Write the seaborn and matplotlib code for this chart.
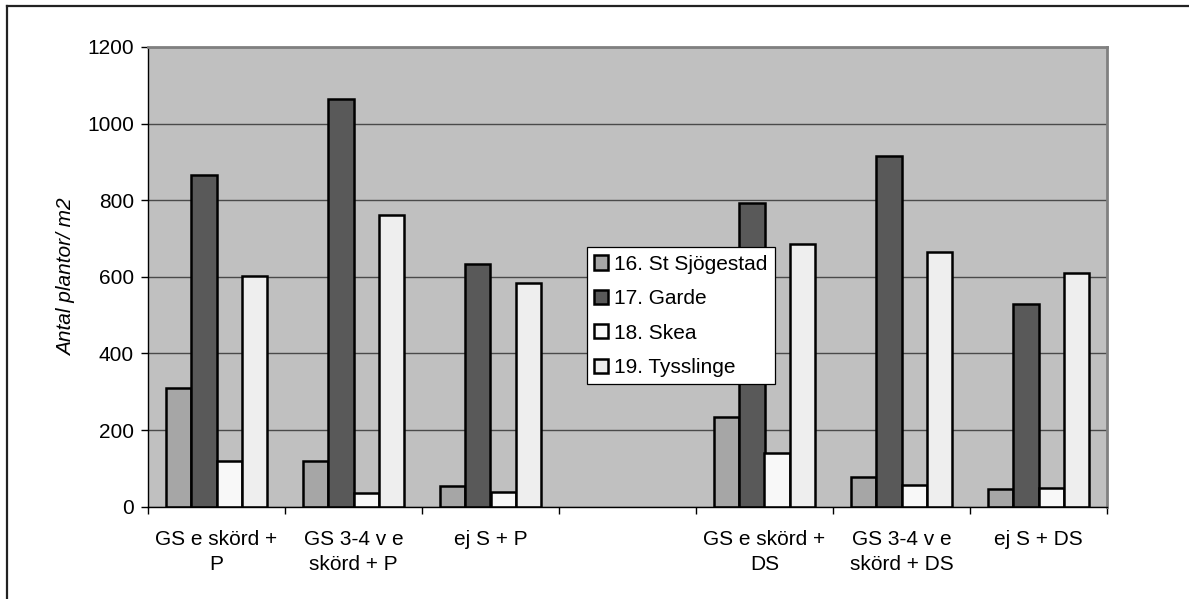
import matplotlib
matplotlib.use("Agg")
import matplotlib.pyplot as plt
import seaborn as sns
import pandas as pd
from matplotlib.lines import Line2D
from matplotlib.ticker import FixedLocator

# Treatments along the x axis (blank slot separates the P and DS groups)
treatments = ["GS e skörd +\nP", "GS 3-4 v e\nskörd + P", "ej S + P", " ",
              "GS e skörd +\nDS", "GS 3-4 v e\nskörd + DS", "ej S + DS"]
sites = ["16. St Sjögestad", "17. Garde", "18. Skea", "19. Tysslinge"]

sjogestad = [310, 120, 55, None, 233, 77, 47]
garde = [866, 1065, 634, None, 794, 915, 529]
skea = [120, 35, 38, None, 140, 57, 48]
tysslinge = [602, 762, 584, None, 687, 664, 610]

colors = ["#A6A6A6", "#595959", "#F8F8F8", "#EEEEEE"]

rows = []
for site, vals in zip(sites, [sjogestad, garde, skea, tysslinge]):
    for t, v in zip(treatments, vals):
        if v is not None:
            rows.append({"Behandling": t, "Plats": site, "Antal": v})
df = pd.DataFrame(rows)

plt.rcParams["font.family"] = ["Liberation Sans", "DejaVu Sans"]

fig = plt.figure(figsize=(11.89, 5.99), dpi=100)
ax = fig.add_axes([148 / 1189, 1 - 506.7 / 599, (1107 - 148) / 1189, (506.7 - 47) / 599])
ax.set_facecolor("#C0C0C0")

sns.barplot(data=df, x="Behandling", y="Antal", hue="Plats", order=treatments,
            hue_order=sites, palette=colors, width=0.73, edgecolor="black",
            linewidth=1.8, saturation=1, errorbar=None, ax=ax)

ax.set_xlim(-0.5, len(treatments) - 0.5)
ax.set_ylim(0, 1200)
ax.set_yticks(range(0, 1201, 200))
ax.yaxis.grid(True, color="#4a4a4a", linewidth=1.0)
ax.set_axisbelow(True)

ax.set_xlabel("")
ax.set_ylabel("Antal plantor/ m2", fontsize=15, style="italic", labelpad=8)

# category boundaries carry the tick marks, labels sit at the centres
ax.xaxis.set_minor_locator(FixedLocator([i - 0.5 for i in range(len(treatments) + 1)]))
ax.tick_params(axis="x", which="major", length=0, pad=16.5, labelsize=15)
ax.tick_params(axis="x", which="minor", length=5, width=1, color="black", direction="out")
ax.tick_params(axis="y", length=5, width=1, color="black", pad=5, labelsize=15)
for lbl in ax.get_xticklabels():
    lbl.set_linespacing(1.45)

for s in ["left", "bottom"]:
    ax.spines[s].set_color("black")
    ax.spines[s].set_linewidth(1.0)
for s in ["top", "right"]:
    ax.spines[s].set_color("#808080")
    ax.spines[s].set_linewidth(2.0)

handles, labels = ax.get_legend_handles_labels()
leg = ax.legend(handles, labels, loc="upper left", bbox_to_anchor=(0.4575, 0.564),
                borderaxespad=0, fontsize=15, frameon=True, fancybox=False,
                handlelength=0.68, handleheight=0.68, handletextpad=0.3,
                labelspacing=0.74, borderpad=0.35)
leg.get_frame().set_edgecolor("black")
leg.get_frame().set_linewidth(0.9)
leg.get_frame().set_facecolor("white")
leg.get_frame().set_alpha(1)

# outer chart frame (left and top edges)
fig.add_artist(Line2D([7 / 1189, 7 / 1189], [0, 1 - 6 / 599], color="#222222",
                      linewidth=1.6, transform=fig.transFigure))
fig.add_artist(Line2D([7 / 1189, 1], [1 - 6 / 599, 1 - 6 / 599], color="#222222",
                      linewidth=1.6, transform=fig.transFigure))

fig.savefig("out.png", dpi=100, facecolor="white")
